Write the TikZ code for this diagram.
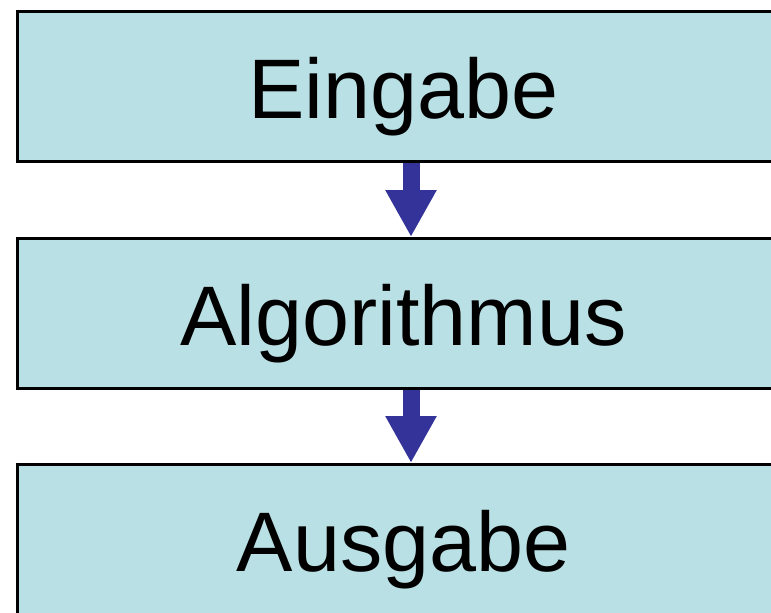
\documentclass[tikz,border=0pt]{standalone}
\usepackage{fontspec}
\setmainfont{Liberation Sans}
\usetikzlibrary{arrows.meta}
\definecolor{boxfill}{RGB}{185,224,228}
\definecolor{arrowblue}{RGB}{51,51,153}
\tikzset{
  stage/.style={draw=black, fill=boxfill, line width=3pt, rectangle,
    minimum width=772pt, minimum height=150pt, inner sep=0pt,
    text height=63pt, text depth=0pt,
    font=\fontsize{84.5pt}{90pt}\selectfont},
  flow/.style={arrowblue, line width=17pt, -{Triangle[width=48pt,length=47pt]}}
}
\begin{document}
\begin{tikzpicture}[x=1pt,y=-1pt]
\useasboundingbox (0,0) rectangle (771,613);
\node[stage] (in) at (403.5,86.5) {Eingabe};
\node[stage] (alg) at (403.5,313.5) {Algorithmus};
\node[stage] (out) at (403.5,539.5) {Ausgabe};
\draw[flow] ([xshift=7.5pt]in.south) -- ([xshift=7.5pt]alg.north);
\draw[flow] ([xshift=7.5pt]alg.south) -- ([xshift=7.5pt]out.north);
\end{tikzpicture}
\end{document}
